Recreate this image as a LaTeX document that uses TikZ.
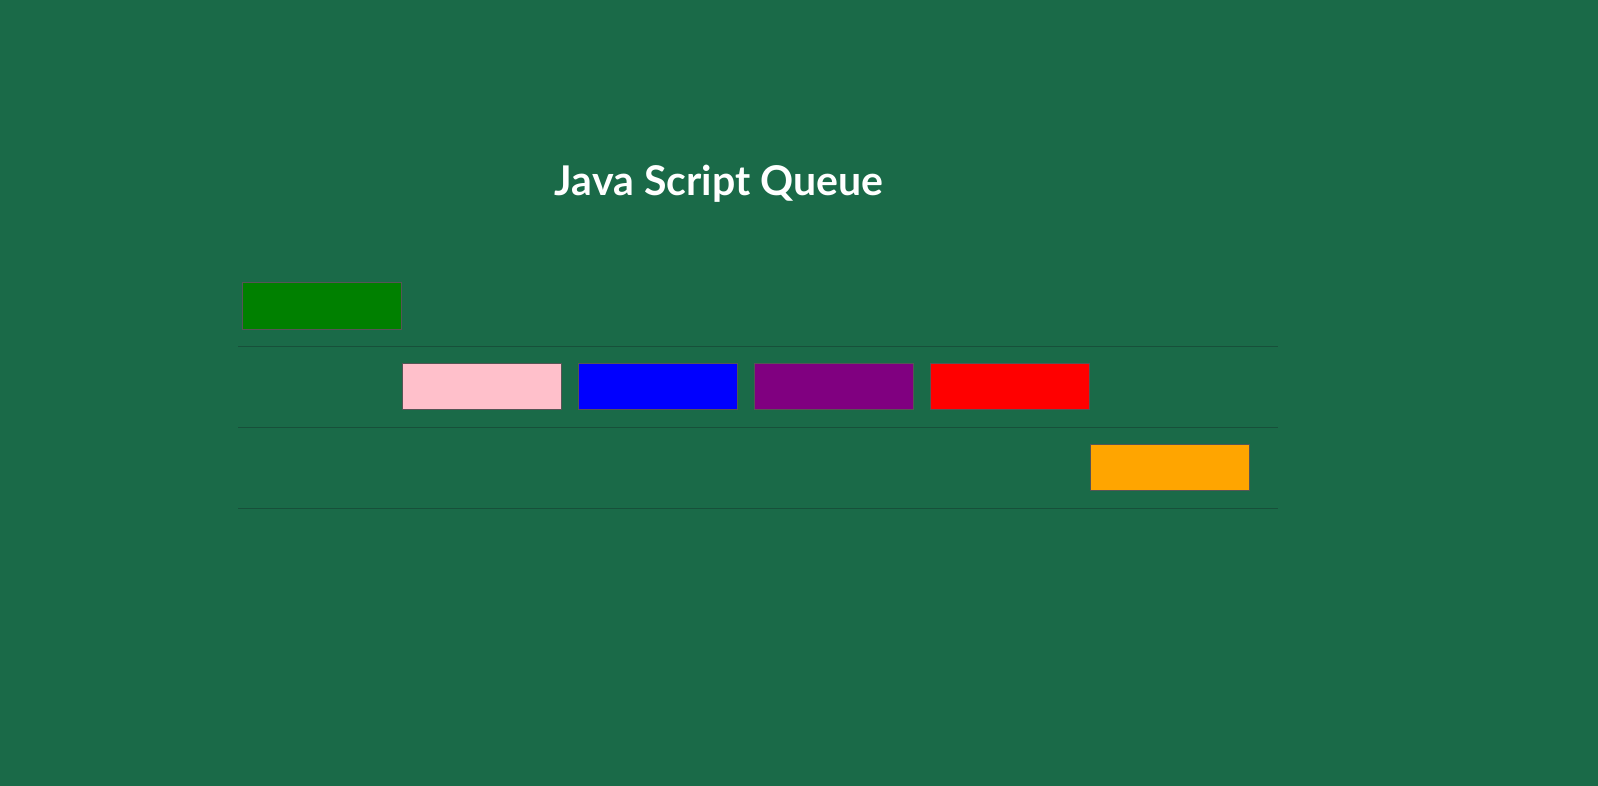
\documentclass[tikz,border=0pt]{standalone}
\usepackage{fontspec}
\newfontfamily\titlefont{Lato}
\definecolor{bgGreen}{HTML}{1A6A48}
\definecolor{rowLine}{HTML}{17503A}
\definecolor{boxGray}{HTML}{555555}
\definecolor{qGreen}{HTML}{008000}
\definecolor{qPink}{HTML}{FFC0CB}
\definecolor{qBlue}{HTML}{0000FF}
\definecolor{qPurple}{HTML}{800080}
\definecolor{qRed}{HTML}{FF0000}
\definecolor{qOrange}{HTML}{FFA500}
\begin{document}
\begin{tikzpicture}[x=1pt, y=-1pt,
    qbox/.style={draw=boxGray, line width=1pt, minimum width=159pt, minimum height=46pt, inner sep=0pt}]
    % 背景
    \fill[bgGreen] (0,0) rectangle (1598,786);
    \useasboundingbox (0,0) rectangle (1598,786);

    % 标题
    \node[anchor=base, text=white, font=\titlefont\bfseries\fontsize{41}{48}\selectfont] (title) at (719,196) {Java Script Queue};

    % 分隔线
    \draw[rowLine, line width=1pt] (238,346) -- (1278,346);
    \draw[rowLine, line width=1pt] (238,427) -- (1278,427);
    \draw[rowLine, line width=1pt] (238,508) -- (1278,508);

    % 第一行：出队
    \node[qbox, fill=qGreen] (green) at (322,306) {};

    % 第二行：队列
    \node[qbox, fill=qPink] (pink) at (482,386.5) {};
    \node[qbox, fill=qBlue] (blue) at (658,386.5) {};
    \node[qbox, fill=qPurple] (purple) at (834,386.5) {};
    \node[qbox, fill=qRed] (red) at (1010,386.5) {};

    % 第三行：入队
    \node[qbox, fill=qOrange] (orange) at (1170,467.5) {};

\end{tikzpicture}
\end{document}
